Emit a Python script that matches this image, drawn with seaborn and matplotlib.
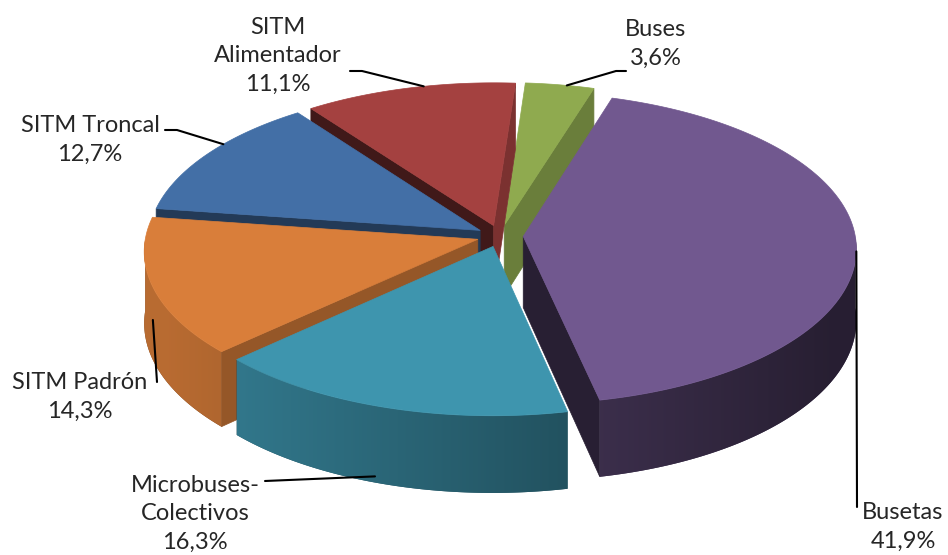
import numpy as np
import matplotlib.pyplot as plt
import seaborn as sns
from matplotlib.patches import Polygon
from matplotlib.colors import to_rgb

sns.set_theme(style="white")
plt.rcParams["font.family"] = ["Lato", "DejaVu Sans"]

# data, clockwise from the first slice angle
categories = ["Buses", "Busetas", "Microbuses-\nColectivos", "SITM Padrón",
              "SITM Troncal", "SITM\nAlimentador"]
shares = [3.6, 41.9, 16.3, 14.3, 12.7, 11.1]
colors = ["#8FAA4F", "#71588F", "#3E95AE", "#D97E3A", "#436FA6", "#A44140"]

# label layout (pixel coords): text centre, leader start, where leader hits the slice
label_xy = [(656, 44), (903, 527), (195, 514), (80, 397), (90, 140), (278, 56)]
leader_start = [[(626, 71), (616, 71)], [(857, 507)], [(265, 481)],
                [(157, 382)], [(165, 130), (177, 130)], [(350, 71), (362, 71)]]
anchor_frac = [0.6, 0.52, 0.53, 0.5, 0.6, 0.57]
anchor_depth = [0, 0, 0.92, 0.45, 0, 0]

# pie geometry (pixels), simple perspective
cx, cy = 500, 236
rx, ry = 332, 155
depth = 71
persp = 0.075
expl = 0.07
start_angle = 86

total = sum(shares)
sweep = np.array(shares) / total * 360
starts = start_angle - np.concatenate([[0], np.cumsum(sweep)[:-1]])
ends = starts - sweep
mids = (starts + ends) / 2
offs = [(expl * np.cos(np.radians(m)), expl * np.sin(np.radians(m))) for m in mids]


def shade(c, f):
    return tuple(min(1, v * f) for v in to_rgb(c))


def proj(X, Z, h=0.0):
    w = 1 + persp * Z
    return (cx + rx * X / w, cy + (-ry * Z + h) / w)


def rim(t, i, h=0.0):
    a = np.radians(t)
    return proj(np.cos(a) + offs[i][0], np.sin(a) + offs[i][1], h)


fig = plt.figure(figsize=(9.48, 5.55), dpi=100)
ax = fig.add_axes([0, 0, 1, 1])

order = sorted(range(len(shares)), key=lambda i: -np.sin(np.radians(mids[i])))
z = 1
for i in order:
    s, e, col = starts[i], ends[i], colors[i]
    c_top = proj(offs[i][0], offs[i][1])
    c_bot = proj(offs[i][0], offs[i][1], depth)

    # radial walls
    for edge, vis, nrm in [(s, np.cos(np.radians(s)) < 0, s + 90),
                           (e, np.cos(np.radians(e)) > 0, e - 90)]:
        if vis:
            f = 0.55 + 0.2 * np.cos(np.radians(nrm))
            ax.add_patch(Polygon([c_top, rim(edge, i), rim(edge, i, depth), c_bot],
                                 closed=True, fc=shade(col, f), ec=shade(col, f),
                                 lw=0.5, zorder=z))
            z += 1

    # outer side, front part only, shaded left to right
    ts = np.linspace(s, e, 300)
    vis = np.sin(np.radians(ts)) < 0
    runs, cur = [], []
    for t, v in zip(ts, vis):
        if v:
            cur.append(t)
        elif cur:
            runs.append(cur)
            cur = []
    if cur:
        runs.append(cur)
    for run in runs:
        top = [rim(t, i) for t in run]
        bot = [rim(t, i, depth) for t in run[::-1]]
        verts = top + bot
        poly = Polygon(verts, closed=True, fc=shade(col, 0.55), ec="none", zorder=z)
        ax.add_patch(poly)
        xs = np.array([p[0] for p in verts])
        ys = np.array([p[1] for p in verts])
        gx = np.linspace(xs.min(), xs.max(), 200)
        fac = 0.6 - 0.25 * np.clip((gx - cx) / rx, -1, 1)
        img = np.array([[shade(col, f) for f in fac]])
        im = ax.imshow(img, extent=(xs.min(), xs.max(), ys.max(), ys.min()),
                       aspect="auto", interpolation="bilinear", zorder=z + 0.5)
        im.set_clip_path(poly)
        z += 1

    # top face
    arc = [rim(t, i) for t in np.linspace(s, e, 200)]
    ax.add_patch(Polygon([c_top] + arc, closed=True, fc=col, ec=col, lw=0.5, zorder=z))
    z += 1

# labels with leader lines
for i in range(len(shares)):
    txt = f"{categories[i]}\n{shares[i]:.1f}".replace(".", ",") + "%"
    ax.text(*label_xy[i], txt, ha="center", va="center", fontsize=17,
            color="#262626", linespacing=1.45, zorder=z)
    t = starts[i] - anchor_frac[i] * sweep[i]
    anc = rim(t, i, anchor_depth[i] * depth)
    pts = leader_start[i] + [anc]
    ax.plot([p[0] for p in pts], [p[1] for p in pts], color="black", lw=1.5, zorder=z)

ax.set_xlim(0, 948)
ax.set_ylim(555, 0)
ax.axis("off")
fig.savefig("out.png", dpi=100)
